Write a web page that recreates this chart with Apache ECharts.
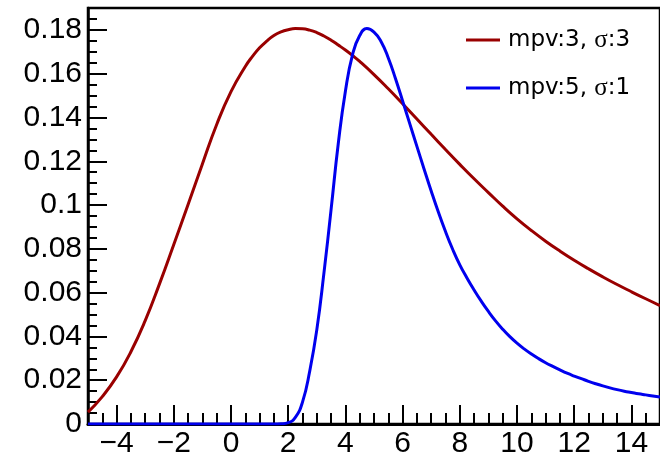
<!DOCTYPE html>
<html>
<head>
<meta charset="utf-8">
<script src="https://cdn.jsdelivr.net/npm/echarts@6/dist/echarts.min.js"></script>
<style>html,body{margin:0;padding:0;background:#fff;}#chart{width:660px;height:459px;}</style>
</head>
<body>
<div id="chart"></div>
<script>
// ---- data ----
const seriesNames = ['mpv:3, σ:3', 'mpv:5, σ:1'];
const redX = [-5, -4.5, -4, -3.5, -3, -2.5, -2, -1.5, -1, -0.5, 0, 0.5, 0.75, 1, 1.25, 1.5, 1.75, 2, 2.25,
              2.5, 2.75, 3, 3.25, 3.5, 3.75, 4, 4.25, 4.5,
              5, 5.5, 6, 6.5, 7, 7.5, 8, 8.5, 9, 9.5, 10, 10.5, 11, 11.5, 12, 12.5, 13, 13.5, 14, 14.5, 15];
const redY = [0.0054, 0.0125, 0.0215, 0.0330, 0.0472, 0.0640, 0.0820, 0.1003, 0.1188, 0.1368, 0.1518,
              0.1633, 0.1679, 0.1718, 0.1749, 0.1774, 0.1791, 0.1801, 0.1806,
              0.1805, 0.1799, 0.1788, 0.1772, 0.1753, 0.1731, 0.1708, 0.1683, 0.1656,
              0.1596, 0.1531, 0.1463, 0.1393, 0.1323, 0.1254, 0.1186, 0.1120, 0.1057, 0.0995,
              0.0937, 0.0884, 0.0835, 0.0790, 0.0748, 0.0709, 0.0672, 0.0637, 0.0604, 0.0572, 0.0541];
const blueX = [-5, 1.5, 1.75, 2, 2.25, 2.5, 2.75, 3, 3.25, 3.5, 3.75, 4, 4.25, 4.5, 4.75, 5, 5.25, 5.5, 5.75,
               6, 6.25, 6.5, 6.75, 7, 7.25, 7.5, 7.75, 8, 8.25, 8.5, 8.75, 9, 9.25, 9.5, 9.75, 10,
               10.25, 10.5, 10.75, 11, 11.25, 11.5, 11.75, 12, 12.25, 12.5, 12.75, 13, 13.25, 13.5,
               13.75, 14, 14.25, 14.5, 14.75, 15];
const blueY = [0, 0, 0.0001, 0.0006, 0.003, 0.010, 0.024, 0.043, 0.069, 0.098, 0.128, 0.152, 0.1687, 0.1774,
               0.1806, 0.1790, 0.1746, 0.1672, 0.1578, 0.1476, 0.1372, 0.1268, 0.1165, 0.1064, 0.0968,
               0.0879, 0.0798, 0.0727, 0.0667, 0.0612, 0.0561, 0.0514, 0.0471, 0.0433, 0.0399, 0.0369,
               0.0343, 0.0320, 0.0299, 0.0280, 0.0263, 0.0247, 0.0232, 0.0219, 0.0207, 0.0195, 0.0184,
               0.0174, 0.0165, 0.0157, 0.0150, 0.0144, 0.0138, 0.0133, 0.0128, 0.0123];
const xTickValues = [-4, -2, 0, 2, 4, 6, 8, 10, 12, 14];
const xTickLabels = ['\u22124', '\u22122', '0', '2', '4', '6', '8', '10', '12', '14'];
const yTickValues = [0, 0.02, 0.04, 0.06, 0.08, 0.1, 0.12, 0.14, 0.16, 0.18];
const yTickLabels = ['0', '0.02', '0.04', '0.06', '0.08', '0.1', '0.12', '0.14', '0.16', '0.18'];
const xRange = [-5, 15];
const yRange = [0, 0.19];

function lookup(vals, labels, v) {
  for (let i = 0; i < vals.length; i++) if (Math.abs(vals[i] - v) < 1e-9) return labels[i];
  return '';
}
function zip(xs, ys) { return xs.map((x, i) => [x, ys[i]]); }

const chart = echarts.init(document.getElementById('chart'), null, {renderer: 'canvas'});
const FONT = 'Liberation Sans';
const option = {
  animation: false,
  backgroundColor: '#fff',
  grid: {left: 88, top: 8, right: -5, bottom: 30, show: true, borderColor: '#000', borderWidth: 2.5, backgroundColor: 'transparent'},
  legend: {
    orient: 'vertical', left: 466, top: 27, padding: 0, itemWidth: 34, itemHeight: 3, itemGap: 22,
    icon: 'rect', selectedMode: false,
    textStyle: {fontFamily: 'DejaVu Sans', fontSize: 23, lineHeight: 26, color: '#000', padding: [0, 0, 0, 3],
      rich: {s: {fontFamily: 'Liberation Serif', fontSize: 25, lineHeight: 26, color: '#000'}}},
    formatter: n => n.replace('σ', '{s|σ}'),
    data: seriesNames
  },
  xAxis: [
    {type: 'value', min: xRange[0], max: xRange[1], position: 'bottom',
     axisLine: {show: true, onZero: false, lineStyle: {color: '#000', width: 3}},
     axisTick: {show: true, inside: true, length: 19, customValues: xTickValues, lineStyle: {color: '#000', width: 2}},
     axisLabel: {show: true, customValues: xTickValues, margin: 5, fontFamily: FONT, fontSize: 30, color: '#000',
       formatter: v => lookup(xTickValues, xTickLabels, v)},
     splitLine: {show: false}},
    {type: 'value', min: xRange[0], max: xRange[1], interval: 0.5, position: 'bottom',
     axisLine: {show: false, onZero: false}, axisLabel: {show: false}, splitLine: {show: false},
     axisTick: {show: true, inside: true, length: 11, lineStyle: {color: '#000', width: 2}}}
  ],
  yAxis: [
    {type: 'value', min: yRange[0], max: yRange[1], position: 'left',
     axisLine: {show: true, onZero: false, lineStyle: {color: '#000', width: 2.5}},
     axisTick: {show: true, inside: true, length: 19, customValues: yTickValues, lineStyle: {color: '#000', width: 2}},
     axisLabel: {show: true, customValues: yTickValues, margin: 6, fontFamily: FONT, fontSize: 30, color: '#000',
       formatter: v => lookup(yTickValues, yTickLabels, v)},
     splitLine: {show: false}},
    {type: 'value', min: yRange[0], max: yRange[1], interval: 0.005, position: 'left',
     axisLine: {show: false, onZero: false}, axisLabel: {show: false}, splitLine: {show: false},
     axisTick: {show: true, inside: true, length: 9, lineStyle: {color: '#000', width: 2}}}
  ],
  series: [
    {name: seriesNames[0], type: 'line', xAxisIndex: 0, yAxisIndex: 0, data: zip(redX, redY),
     symbol: 'none', smooth: 0.5, lineStyle: {color: '#990000', width: 3}, itemStyle: {color: '#990000'}, z: 3},
    {name: seriesNames[1], type: 'line', xAxisIndex: 0, yAxisIndex: 0, data: zip(blueX, blueY),
     symbol: 'none', smooth: 0.5, lineStyle: {color: '#0000ee', width: 3}, itemStyle: {color: '#0000ee'}, z: 4}
  ]
};
chart.setOption(option);
</script>
</body>
</html>
